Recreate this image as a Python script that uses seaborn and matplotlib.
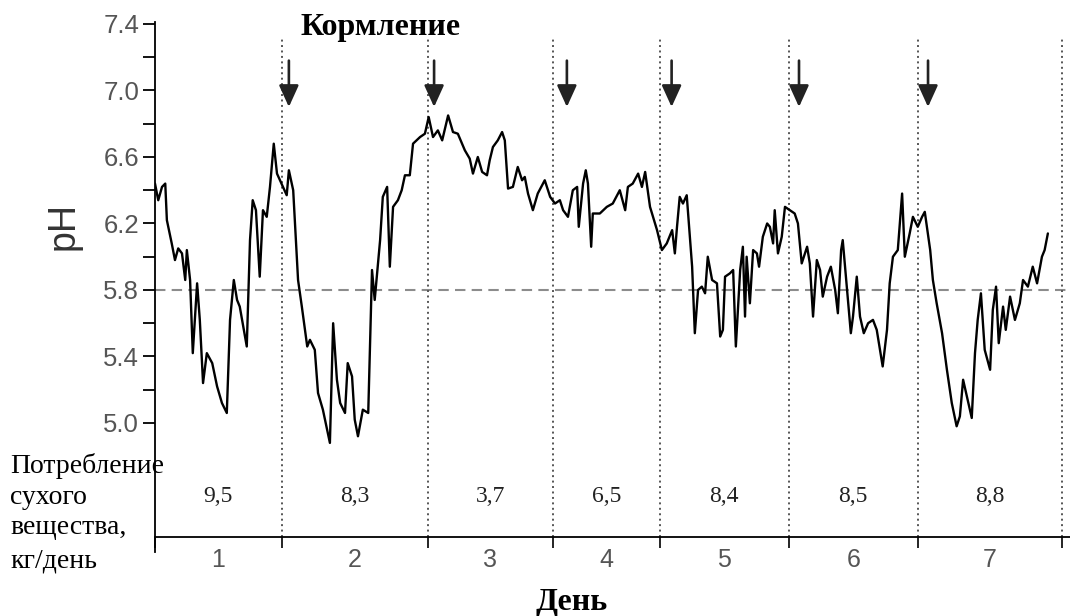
import matplotlib
matplotlib.use("Agg")
import matplotlib.pyplot as plt
import matplotlib.transforms as mtransforms
import numpy as np
import pandas as pd
import seaborn as sns

# ---------------- data ----------------
hours = [
    0.0, 0.6, 1.3, 1.9, 2.2, 3.1, 3.7, 4.3, 5.0, 5.6,
    5.9, 6.5, 7.0, 7.8, 8.3, 8.9, 9.6, 10.6, 11.5, 12.4,
    13.3, 13.9, 14.6, 15.2, 15.7, 17.0, 17.6, 18.1, 18.7, 19.4,
    20.0, 20.7, 21.3, 22.0, 22.6, 23.7, 24.4, 24.8, 25.6, 26.5,
    27.2, 28.2, 28.7, 29.6, 30.2, 31.1, 32.4, 33.0, 33.7, 34.3,
    35.2, 35.7, 36.5, 37.0, 37.6, 38.5, 39.5, 40.2, 40.7, 41.7,
    42.2, 43.0, 43.5, 44.1, 45.0, 45.7, 46.3, 47.2, 47.8, 49.1,
    50.0, 50.7, 51.5, 52.4, 53.2, 54.3, 55.2, 56.1, 57.4, 58.3,
    58.9, 59.8, 60.6, 61.5, 62.0, 62.6, 63.5, 64.3, 64.8, 65.4,
    66.3, 67.2, 68.0, 68.5, 69.1, 70.0, 70.9, 72.2, 73.2, 74.1,
    75.0, 75.6, 76.5, 77.4, 78.2, 78.5, 79.3, 79.8, 80.2, 80.8,
    81.1, 82.4, 83.7, 84.8, 86.1, 87.1, 87.6, 88.5, 89.5, 90.2,
    90.8, 91.7, 93.0, 93.9, 94.8, 95.8, 96.3, 96.7, 97.2, 97.8,
    98.5, 99.5, 100.0, 100.6, 101.3, 101.9, 102.4, 103.2, 104.1, 104.7,
    105.2, 105.6, 106.5, 107.1, 107.6, 108.4, 108.9, 109.3, 109.6, 110.2,
    110.8, 111.5, 111.9, 112.6, 113.4, 113.9, 114.5, 114.8, 115.4, 116.1,
    116.7, 117.6, 118.5, 119.1, 119.8, 120.4, 120.8, 121.3, 121.9, 122.6,
    123.2, 123.7, 124.5, 125.2, 126.0, 126.5, 127.1, 127.4, 128.2, 128.9,
    129.3, 130.0, 130.6, 131.3, 132.1, 133.0, 133.7, 134.3, 134.8, 135.6,
    136.1, 136.7, 137.6, 138.4, 138.9, 139.8, 140.4, 141.3, 142.1, 142.6,
    143.6, 144.1, 144.8, 145.8, 146.7, 147.6, 148.5, 149.1, 149.7, 150.4,
    151.3, 151.9, 152.4, 153.0, 153.7, 154.7, 155.2, 155.8, 156.3, 157.1,
    157.6, 158.4, 159.3, 160.2, 160.8, 161.7, 162.6, 163.4, 164.3, 164.8, 165.4,
]
ph = [
    6.44, 6.34, 6.42, 6.44, 6.22, 6.08, 5.98, 6.05, 6.02, 5.86,
    6.04, 5.86, 5.42, 5.84, 5.62, 5.24, 5.42, 5.36, 5.22, 5.12,
    5.06, 5.62, 5.86, 5.74, 5.70, 5.46, 6.10, 6.34, 6.28, 5.88,
    6.28, 6.24, 6.42, 6.68, 6.50, 6.42, 6.37, 6.52, 6.40, 5.86,
    5.70, 5.46, 5.50, 5.44, 5.18, 5.08, 4.88, 5.60, 5.26, 5.12,
    5.06, 5.36, 5.28, 5.02, 4.92, 5.08, 5.06, 5.92, 5.74, 6.10,
    6.36, 6.42, 5.94, 6.30, 6.34, 6.40, 6.49, 6.49, 6.68, 6.72,
    6.74, 6.84, 6.72, 6.76, 6.70, 6.85, 6.75, 6.74, 6.64, 6.59,
    6.50, 6.60, 6.51, 6.49, 6.58, 6.66, 6.70, 6.75, 6.70, 6.41,
    6.42, 6.54, 6.46, 6.48, 6.38, 6.28, 6.38, 6.46, 6.36, 6.32,
    6.34, 6.28, 6.24, 6.40, 6.42, 6.18, 6.44, 6.52, 6.44, 6.06,
    6.26, 6.26, 6.30, 6.32, 6.40, 6.28, 6.42, 6.44, 6.50, 6.42,
    6.51, 6.30, 6.16, 6.04, 6.08, 6.16, 6.02, 6.18, 6.36, 6.32,
    6.37, 5.94, 5.54, 5.80, 5.82, 5.78, 6.00, 5.86, 5.84, 5.52,
    5.56, 5.88, 5.90, 5.92, 5.46, 5.92, 6.06, 5.64, 6.00, 5.72,
    6.04, 6.02, 5.94, 6.12, 6.20, 6.18, 6.08, 6.28, 6.02, 6.12,
    6.30, 6.28, 6.26, 6.20, 5.96, 6.02, 6.06, 5.96, 5.64, 5.98,
    5.92, 5.76, 5.88, 5.94, 5.80, 5.66, 6.04, 6.10, 5.80, 5.54,
    5.64, 5.88, 5.64, 5.54, 5.60, 5.62, 5.56, 5.44, 5.34, 5.56,
    5.84, 6.00, 6.04, 6.38, 6.00, 6.14, 6.24, 6.18, 6.24, 6.27,
    6.04, 5.86, 5.72, 5.54, 5.32, 5.12, 4.98, 5.04, 5.26, 5.16,
    5.03, 5.42, 5.62, 5.78, 5.44, 5.32, 5.68, 5.82, 5.48, 5.70,
    5.56, 5.76, 5.62, 5.72, 5.86, 5.82, 5.94, 5.84, 6.00, 6.04, 6.14,
]
day_bounds = [0.0, 23.5, 50.6, 73.7, 93.5, 117.4, 141.3, 168.0]   # hours
feed_times = [24.8, 51.7, 76.3, 95.7, 119.3, 143.2]               # hours
day_labels = ["1", "2", "3", "4", "5", "6", "7"]
intake = ["9,5", "8,3", "3,7", "6,5", "8,4", "8,5", "8,8"]
ph_threshold = 5.8
y_ticks = [5.0, 5.4, 5.8, 6.2, 6.6, 7.0, 7.4]
left_caption = ["Потребление", "сухого", "вещества,", "кг/день"]

assert len(hours) == len(ph)

# ---------------- figure ----------------
sns.set_theme(style="ticks")
plt.rcParams["font.family"] = ["Liberation Sans", "DejaVu Sans"]
SERIF = ["Liberation Serif", "DejaVu Serif"]

W, H = 1070, 616
fig = plt.figure(figsize=(W / 100, H / 100), dpi=100)
fig.patch.set_facecolor("white")
ax = fig.add_axes([155 / W, 1 - 537 / H, 1 - 155 / W, (537 - 22) / H])
ax.set_facecolor("white")

df = pd.DataFrame({"t": hours, "ph": ph})
sns.lineplot(data=df, x="t", y="ph", ax=ax, color="black", linewidth=1.7,
             estimator=None, sort=False)

ax.set_xlim(0, 169.5)
ax.set_ylim(4.314, 7.412)

# threshold line
ax.axhline(ph_threshold, color="#8c8c8c", linewidth=1.5, dashes=(5, 3), zorder=1)

# day boundary dotted lines
for b in day_bounds[1:]:
    ax.axvline(b, ymin=0, ymax=0.971, color="#555555", linewidth=1.4,
               linestyle=(0, (1, 1.8)), zorder=1)

# feeding arrows
for t in feed_times:
    ax.annotate("", xy=(t, 0.835), xytext=(t, 0.925),
                xycoords=("data", "axes fraction"),
                textcoords=("data", "axes fraction"),
                arrowprops=dict(arrowstyle="-|>,head_width=0.5,head_length=1.1",
                                color="#222222", linewidth=1.9,
                                shrinkA=0, shrinkB=0))

# axes styling
sns.despine(ax=ax)
for s in ("left", "bottom"):
    ax.spines[s].set_linewidth(1.3)
    ax.spines[s].set_color("black")
ax.spines["left"].set_bounds(4.224, 7.412)

ax.set_yticks(y_ticks)
ax.set_yticklabels([f"{v:.1f}" for v in y_ticks])
ax.set_yticks([v + 0.2 for v in y_ticks[:-1]], minor=True)
ax.tick_params(axis="y", which="both", direction="out", length=8.5, width=1.3,
               color="black", labelcolor="#555555", labelsize=18.5, pad=3)

mids = [(a + b) / 2 for a, b in zip(day_bounds[:-1], day_bounds[1:])]
ax.set_xticks(day_bounds)
ax.set_xticklabels([""] * len(day_bounds))
ax.set_xticks(mids, minor=True)
ax.set_xticklabels(day_labels, minor=True)
ax.tick_params(axis="x", which="major", direction="out", length=8, width=1.2,
               color="black")
ax.tick_params(axis="x", which="minor", length=0, labelcolor="#555555",
               labelsize=18, pad=8)

ax.set_ylabel("pH", fontsize=27, color="#333333")
ax.yaxis.set_label_coords((82 - 155) / 915, (537 - 226) / 515)
ax.set_xlabel("День", fontsize=23, fontweight="bold", family=SERIF, color="black")
ax.xaxis.set_label_coords((572 - 155) / 915, (537 - 588) / 515)

# title
ax.text((381 - 155) / 915, (537 - 28) / 515, "Кормление", transform=ax.transAxes,
        ha="center", va="center", fontsize=23, fontweight="bold", family=SERIF,
        color="black")

# intake values
trans = mtransforms.blended_transform_factory(ax.transData, ax.transAxes)
for m, v in zip(mids, intake):
    ax.text(m, (537 - 497) / 515, v, transform=trans, ha="center", va="center",
            fontsize=17, family=SERIF, color="#222222")

# left caption
for txt, ypx in zip(left_caption, [466, 497, 528, 561]):
    fig.text(10 / W, 1 - ypx / H, txt, ha="left", va="center", fontsize=20,
             family=SERIF, color="black")

fig.savefig("out.png", dpi=100, facecolor="white")
